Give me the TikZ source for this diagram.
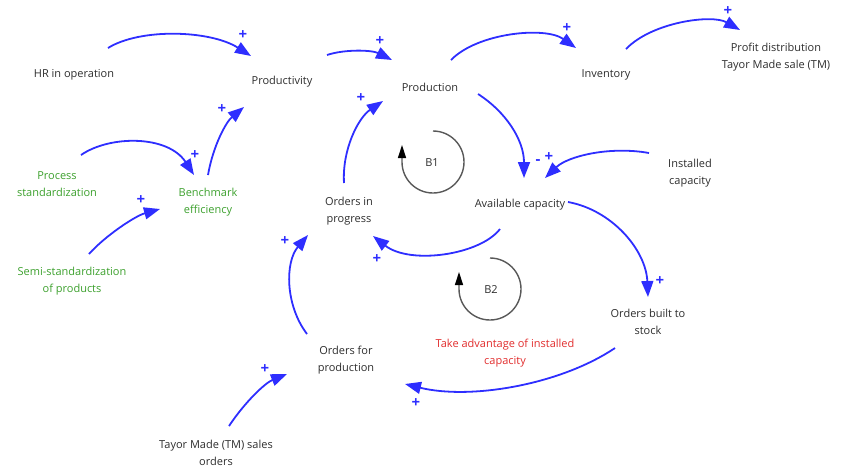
\documentclass[tikz,border=0pt]{standalone}
\usepackage{fontspec}
\setmainfont{Open Sans}
\usetikzlibrary{arrows.meta}
\definecolor{linkblue}{RGB}{46,46,255}
\definecolor{txtgray}{RGB}{45,45,45}
\definecolor{policygreen}{RGB}{60,160,45}
\definecolor{loopred}{RGB}{225,45,45}
\tikzset{
  var/.style={font=\fontsize{11}{17}\selectfont, text=txtgray, align=center, inner sep=0pt},
  policy/.style={var, text=policygreen},
  note/.style={var, text=loopred},
  link/.style={draw=linkblue, line width=1.8pt, -{Triangle[length=16pt,width=12pt]}},
  sign/.style={text=linkblue, font=\fontsize{15}{15}\selectfont\bfseries, inner sep=0pt},
  loopline/.style={draw=black!65, line width=1.4pt, -{Triangle[length=13pt,width=8pt,fill=black,color=black]}},
  looplabel/.style={var, font=\fontsize{11}{12}\selectfont}
}
\begin{document}
\begin{tikzpicture}[x=1pt,y=1pt]
\useasboundingbox (0,0) rectangle (846,-467);

% variables
\node[var] (hr)    at (74,-75)  {HR in operation};
\node[var] (prody) at (282,-82) {Productivity};
\node[var] (prodn) at (430,-87) {Production};
\node[var] (inv)   at (606,-75) {Inventory};
\node[var] (profit) at (776,-57) {Profit distribution\\Tayor Made sale (TM)};
\node[policy] (pstd) at (57,-184) {Process\\standardization};
\node[policy] (bench) at (208,-202) {Benchmark\\efficiency};
\node[var] (oip)   at (349,-211) {Orders in\\progress};
\node[var] (avail) at (520,-205) {Available capacity};
\node[var] (inst)  at (690,-173) {Installed\\capacity};
\node[policy] (semi) at (72,-281) {Semi-standardization\\of products};
\node[var] (ofp)   at (346,-360) {Orders for\\production};
\node[note] (take) at (505,-353) {Take advantage of installed\\capacity};
\node[var] (obs)   at (648,-322) {Orders built to\\stock};
\node[var] (tms)   at (216,-453) {Tayor Made (TM) sales\\orders};

% connector end points
\coordinate (hr-o)    at (108,-48);  \coordinate (prody-i1) at (251,-56);
\coordinate (prody-o) at (327,-55);  \coordinate (prodn-i)  at (392,-60);
\coordinate (prodn-o1) at (451,-60); \coordinate (inv-i)    at (576,-48);
\coordinate (inv-o)   at (626,-49);  \coordinate (profit-i) at (740,-30);
\coordinate (prodn-o2) at (478,-94); \coordinate (avail-i1) at (524,-178);
\coordinate (inst-o)  at (649,-153); \coordinate (avail-i2) at (545,-178);
\coordinate (oip-o)   at (344,-183); \coordinate (prodn-i2) at (383,-101);
\coordinate (pstd-o)  at (81,-155);  \coordinate (bench-i1) at (194,-175);
\coordinate (semi-o)  at (89,-254);  \coordinate (bench-i2) at (160,-209);
\coordinate (bench-o) at (208,-175); \coordinate (prody-i2) at (244,-107);
\coordinate (avail-o1) at (500,-229); \coordinate (oip-i1)  at (373,-236);
\coordinate (avail-o2) at (568,-202); \coordinate (obs-i)   at (648,-297);
\coordinate (obs-o)   at (615,-348); \coordinate (ofp-i1)   at (405,-384);
\coordinate (ofp-o)   at (307,-334); \coordinate (oip-i2)   at (308,-235);
\coordinate (tms-o)   at (229,-426); \coordinate (ofp-i2)   at (287,-374);

% causal links
\draw[link] (hr-o) .. controls (140,-28) and (210,-30) .. (prody-i1);
\draw[link] (prody-o) .. controls (345,-49) and (372,-50) .. (prodn-i);
\draw[link] (prodn-o1) .. controls (477,-33) and (545,-26) .. (inv-i);
\draw[link] (inv-o) .. controls (652,-22) and (712,-14) .. (profit-i);
\draw[link] (prodn-o2) .. controls (506,-112) and (524,-140) .. (avail-i1);
\draw[link] (inst-o) .. controls (610,-146) and (568,-156) .. (avail-i2);
\draw[link] (oip-o) .. controls (342,-150) and (358,-118) .. (prodn-i2);
\draw[link] (pstd-o) .. controls (110,-135) and (168,-135) .. (bench-i1);
\draw[link] (semi-o) .. controls (105,-236) and (135,-216) .. (bench-i2);
\draw[link] (bench-o) .. controls (213,-146) and (226,-122) .. (prody-i2);
\draw[link] (avail-o1) .. controls (480,-255) and (410,-265) .. (oip-i1);
\draw[link] (avail-o2) .. controls (612,-210) and (646,-250) .. (obs-i);
\draw[link] (obs-o) .. controls (560,-385) and (470,-400) .. (ofp-i1);
\draw[link] (ofp-o) .. controls (285,-305) and (285,-262) .. (oip-i2);
\draw[link] (tms-o) .. controls (245,-402) and (265,-383) .. (ofp-i2);

% polarities
\node[sign] (s1)  at (243,-35)  {+};
\node[sign] (s2)  at (380,-41)  {+};
\node[sign] (s3)  at (567,-28)  {+};
\node[sign] (s4)  at (728,-11)  {+};
\node[sign] (s5)  at (538,-162) {-};
\node[sign] (s6)  at (549,-157) {+};
\node[sign] (s7)  at (361,-98)  {+};
\node[sign] (s8)  at (195,-155) {+};
\node[sign] (s9)  at (141,-200) {+};
\node[sign] (s10) at (222,-109) {+};
\node[sign] (s11) at (377,-259) {+};
\node[sign] (s12) at (660,-281) {+};
\node[sign] (s13) at (416,-403) {+};
\node[sign] (s14) at (285,-241) {+};
\node[sign] (s15) at (265,-369) {+};

% balancing loops
\node[looplabel] (b1) at (432,-163) {B1};
\draw[loopline] (433,-131) arc[start angle=90, end angle=-180, radius=31] -- ++(0,17);
\node[looplabel] (b2) at (491,-290) {B2};
\draw[loopline] (490,-258) arc[start angle=90, end angle=-180, radius=31] -- ++(0,17);
\end{tikzpicture}
\end{document}
